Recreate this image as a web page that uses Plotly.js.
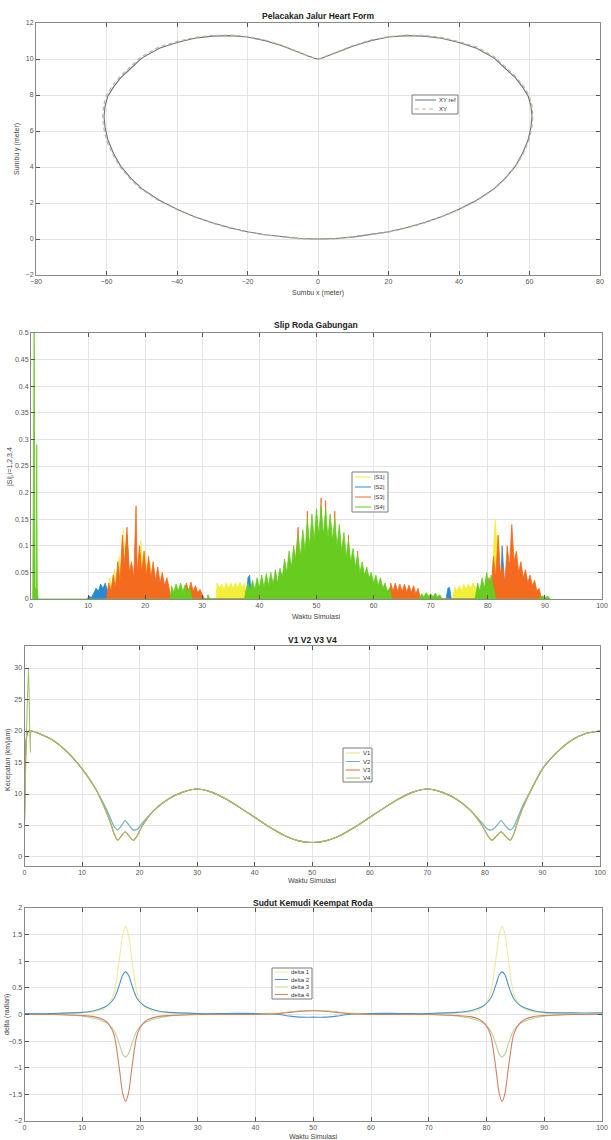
<!DOCTYPE html>
<html>
<head>
<meta charset="utf-8">
<script src="https://cdn.plot.ly/plotly-3.0.1.min.js"></script>
<style>html,body{margin:0;padding:0;background:#fff;}#chart{width:611px;height:1140px;}</style>
</head>
<body>
<div id="chart"></div>
<script>
// ---------- DATA ----------
// Plot 1: heart path (x, y in meter)
const heartRefX = [0, 5, 10, 15, 20, 25, 30, 35, 40, 45, 50, 53, 56, 58, 59.6, 60.4, 60.7, 60.4, 59.6, 58, 56, 53, 50, 45, 40, 35, 30, 25, 20, 15, 10, 6, 3, 1, 0, -1, -3, -6, -10, -15, -20, -25, -30, -35, -40, -45, -50, -53, -56, -58, -59.6, -60.4, -60.7, -60.4, -59.6, -58, -56, -53, -50, -45, -40, -35, -30, -25, -20, -15, -10, -5, 0];
const heartRefY = [0, 0.03, 0.12, 0.24, 0.4, 0.62, 0.9, 1.24, 1.65, 2.15, 2.8, 3.35, 4.05, 4.75, 5.5, 6.2, 6.8, 7.4, 7.95, 8.45, 8.95, 9.5, 10.05, 10.6, 10.92, 11.15, 11.27, 11.3, 11.22, 11.02, 10.72, 10.42, 10.18, 10.04, 10.0, 10.04, 10.18, 10.42, 10.72, 11.02, 11.22, 11.3, 11.27, 11.15, 10.92, 10.6, 10.05, 9.5, 8.95, 8.45, 7.95, 7.4, 6.8, 6.2, 5.5, 4.75, 4.05, 3.35, 2.8, 2.15, 1.65, 1.24, 0.9, 0.62, 0.4, 0.24, 0.12, 0.03, 0];
const heartX = [0, 5, 10, 15, 20, 25, 30, 35, 40, 45, 50, 53, 56, 58.2, 59.8, 60.7, 61.0, 60.7, 59.9, 58.3, 56.2, 53.2, 50.2, 45.1, 40, 35, 30, 25, 20, 15, 10, 6, 3, 1, 0, -1, -3, -6, -10, -15, -20, -25, -30, -35, -40, -45.2, -50.3, -53.3, -56.3, -58.4, -60, -60.8, -61.1, -60.8, -60, -58.3, -56.2, -53.2, -50.2, -45.1, -40, -35, -30, -25, -20, -15, -10, -5, 0];
const heartY = [-0.02, 0.01, 0.1, 0.22, 0.38, 0.6, 0.88, 1.22, 1.63, 2.12, 2.77, 3.32, 4.02, 4.72, 5.47, 6.18, 6.8, 7.42, 7.98, 8.5, 9.0, 9.56, 10.1, 10.66, 10.97, 11.2, 11.31, 11.33, 11.25, 11.05, 10.75, 10.45, 10.2, 10.06, 10.02, 10.06, 10.2, 10.45, 10.75, 11.05, 11.25, 11.33, 11.31, 11.2, 10.97, 10.66, 10.1, 9.56, 9.0, 8.5, 7.98, 7.42, 6.8, 6.18, 5.47, 4.72, 4.02, 3.32, 2.77, 2.12, 1.63, 1.22, 0.88, 0.6, 0.38, 0.22, 0.1, 0.01, -0.02];
const heartNames = ['XY ref', 'XY'];

// Plot 2: wheel slip |S1|..|S4| vs simulation time
const s1T = [13.5, 13.8, 14.2, 14.6, 15.0, 15.4, 15.8, 16.2, 16.6, 17.0, 17.4, 18.8, 19.2, 19.6, 20.0, 20.4, 20.8, 21.2, 21.6, 22.0, 32.4, 32.6, 33.0, 33.4, 33.8, 34.2, 34.6, 35.0, 35.4, 35.8, 36.2, 36.6, 37.0, 37.4, 37.6, 73.8, 74.2, 74.6, 75.0, 75.4, 75.8, 76.2, 76.6, 77.0, 77.4, 77.8, 78.2, 80.6, 81.0, 81.3, 81.6, 81.9, 82.2];
const s1V = [0, 0.04, 0.02, 0.055, 0.03, 0.08, 0.05, 0.13, 0.06, 0.1, 0, 0, 0.11, 0.06, 0.09, 0.04, 0.07, 0.03, 0.05, 0, 0, 0.03, 0.02, 0.028, 0.018, 0.03, 0.02, 0.03, 0.02, 0.03, 0.022, 0.032, 0.02, 0.03, 0, 0, 0.022, 0.015, 0.025, 0.016, 0.027, 0.018, 0.028, 0.02, 0.03, 0.022, 0, 0, 0.09, 0.15, 0.1, 0.12, 0];
const s2T = [9.8, 10.2, 10.6, 11.0, 11.4, 11.8, 12.2, 12.6, 13.0, 13.4, 13.8, 16.2, 16.5, 16.8, 17.1, 17.4, 37.7, 38.0, 38.3, 38.6, 43.2, 43.5, 43.8, 44.1, 72.7, 73.0, 73.3, 73.6, 82.2, 82.5, 82.8, 83.1];
const s2V = [0, 0.005, 0.003, 0.012, 0.02, 0.015, 0.028, 0.02, 0.03, 0.015, 0, 0, 0.08, 0.12, 0.06, 0, 0, 0.04, 0.045, 0, 0, 0.05, 0.048, 0, 0, 0.02, 0.022, 0, 0, 0.1, 0.05, 0];
const s3T = [13.2, 13.6, 14.0, 14.4, 14.8, 15.2, 15.6, 16.0, 16.4, 16.8, 17.2, 17.6, 18.0, 18.4, 18.6, 19.0, 19.4, 19.8, 20.2, 20.6, 21.0, 21.4, 21.8, 22.2, 22.6, 23.0, 23.4, 23.8, 24.2, 24.5, 26.8, 27.2, 27.6, 28.0, 28.4, 28.8, 29.2, 29.6, 30.0, 30.4, 45.8, 46.8, 47.0, 48.2, 48.4, 48.6, 50.6, 50.8, 51.0, 51.4, 51.6, 51.8, 53.0, 53.2, 53.4, 55.4, 55.6, 55.8, 57.0, 57.2, 57.4, 62.6, 63.0, 63.4, 63.8, 64.2, 64.6, 65.0, 65.4, 65.8, 66.2, 66.6, 67.0, 67.4, 67.8, 68.2, 79.8, 80.2, 80.6, 81.0, 81.4, 81.8, 82.2, 82.6, 83.0, 83.4, 83.8, 84.2, 84.6, 85.0, 85.4, 85.8, 86.2, 86.6, 87.0, 87.4, 87.8, 88.2, 88.6, 89.0, 89.4];
const s3V = [0, 0.03, 0.015, 0.045, 0.02, 0.07, 0.035, 0.12, 0.06, 0.135, 0.05, 0.07, 0.04, 0.175, 0.05, 0.1, 0.05, 0.09, 0.045, 0.08, 0.04, 0.07, 0.035, 0.06, 0.03, 0.05, 0.025, 0.04, 0.02, 0, 0, 0.03, 0.015, 0.032, 0.015, 0.025, 0.012, 0.018, 0.008, 0, 0, 0.135, 0, 0, 0.165, 0, 0, 0.19, 0, 0, 0.185, 0, 0, 0.165, 0, 0, 0.12, 0, 0, 0.09, 0, 0, 0.03, 0.015, 0.03, 0.015, 0.028, 0.014, 0.028, 0.013, 0.026, 0.012, 0.025, 0.01, 0.02, 0, 0, 0.04, 0.02, 0.08, 0.04, 0.12, 0.05, 0.06, 0.03, 0.1, 0.06, 0.14, 0.07, 0.09, 0.05, 0.07, 0.04, 0.055, 0.03, 0.045, 0.025, 0.035, 0.015, 0.02, 0];
const s4T = [0.3, 0.45, 0.55, 0.7, 0.9, 1.0, 1.1, 1.25, 24.4, 24.6, 25.0, 25.4, 25.8, 26.2, 26.6, 27.0, 27.4, 27.8, 28.2, 30.8, 31.0, 31.3, 37.4, 37.6, 38.0, 38.4, 38.8, 39.2, 39.6, 40.0, 40.4, 40.8, 41.2, 41.6, 42.0, 42.4, 42.8, 43.2, 43.6, 44.0, 44.4, 44.8, 45.2, 45.6, 46.0, 46.4, 46.8, 47.2, 47.6, 48.0, 48.4, 48.8, 49.2, 49.6, 50.0, 50.4, 50.8, 51.2, 51.6, 52.0, 52.4, 52.8, 53.2, 53.6, 54.0, 54.4, 54.8, 55.2, 55.6, 56.0, 56.4, 56.8, 57.2, 57.6, 58.0, 58.4, 58.8, 59.2, 59.6, 60.0, 60.4, 60.8, 61.2, 61.6, 62.0, 62.4, 62.8, 63.2, 68.0, 68.4, 68.8, 69.2, 69.6, 70.0, 70.4, 70.8, 71.2, 71.6, 72.0, 77.8, 78.2, 78.6, 79.0, 79.4, 79.8, 80.2, 80.6, 81.0, 81.4, 89.0, 89.5, 90.0, 90.5, 91.0];
const s4V = [0, 0.5, 0.5, 0.02, 0.02, 0.29, 0.02, 0, 0, 0.025, 0.012, 0.028, 0.015, 0.03, 0.014, 0.027, 0.012, 0.022, 0, 0, 0.008, 0, 0, 0.015, 0.03, 0.015, 0.035, 0.018, 0.04, 0.02, 0.045, 0.022, 0.048, 0.025, 0.05, 0.028, 0.055, 0.03, 0.058, 0.04, 0.075, 0.05, 0.09, 0.06, 0.1, 0.07, 0.12, 0.08, 0.13, 0.09, 0.15, 0.1, 0.16, 0.11, 0.17, 0.12, 0.175, 0.12, 0.17, 0.115, 0.16, 0.11, 0.15, 0.1, 0.14, 0.09, 0.125, 0.08, 0.11, 0.07, 0.095, 0.06, 0.085, 0.05, 0.07, 0.045, 0.06, 0.04, 0.05, 0.03, 0.045, 0.025, 0.04, 0.02, 0.03, 0.015, 0.02, 0, 0, 0.01, 0.004, 0.012, 0.005, 0.01, 0.004, 0.011, 0.004, 0.008, 0, 0, 0.03, 0.015, 0.04, 0.02, 0.05, 0.025, 0.045, 0.02, 0, 0, 0.006, 0.003, 0.005, 0];
const slipNames = ['|S1|', '|S2|', '|S3|', '|S4|'];

// Plot 3: wheel speeds V1..V4 (km/jam)
const vT = [0, 0.35, 0.7, 1.0, 1.2, 2.5, 5, 7.5, 10, 12.5, 14, 15, 15.6, 16.2, 16.8, 17.5, 18.2, 18.9, 19.6, 20.5, 22.5, 25, 27.5, 30, 32.5, 35, 37.5, 40, 42.5, 45, 47.5, 50, 52.5, 55, 57.5, 60, 62.5, 65, 67.5, 70, 72.5, 75, 77.5, 79.5, 80.5, 81.2, 82, 82.8, 83.6, 84.4, 85, 85.6, 86.5, 88, 90, 92.5, 95, 97.5, 100];
const v1 = [5.5, 19, 20, 20, 20, 19.6, 18.5, 16.6, 14.0, 10.6, 8.0, 6.0, 4.8, 4.3, 4.9, 5.8, 5.0, 4.3, 4.4, 5.4, 7.4, 9.2, 10.3, 10.8, 10.3, 9.2, 7.8, 6.3, 4.8, 3.5, 2.6, 2.3, 2.6, 3.5, 4.8, 6.3, 7.8, 9.2, 10.3, 10.8, 10.3, 9.2, 7.4, 5.4, 4.4, 4.3, 4.9, 5.8, 4.9, 4.3, 4.8, 6.0, 8.0, 10.6, 14.0, 16.6, 18.5, 19.6, 20];
const v2 = [5.5, 19, 20, 20, 20, 19.6, 18.5, 16.6, 14.0, 10.6, 8.0, 6.0, 4.8, 4.3, 4.9, 5.8, 5.0, 4.3, 4.4, 5.4, 7.4, 9.2, 10.3, 10.8, 10.3, 9.2, 7.8, 6.3, 4.8, 3.5, 2.6, 2.3, 2.6, 3.5, 4.8, 6.3, 7.8, 9.2, 10.3, 10.8, 10.3, 9.2, 7.4, 5.4, 4.4, 4.3, 4.9, 5.8, 4.9, 4.3, 4.8, 6.0, 8.0, 10.6, 14.0, 16.6, 18.5, 19.6, 20];
const v3 = [5.5, 19, 20, 20, 20, 19.6, 18.5, 16.6, 14.0, 10.6, 7.6, 5.3, 3.6, 2.65, 3.3, 4.0, 3.3, 2.65, 3.4, 5.0, 7.4, 9.2, 10.3, 10.8, 10.3, 9.2, 7.8, 6.3, 4.8, 3.5, 2.6, 2.3, 2.6, 3.5, 4.8, 6.3, 7.8, 9.2, 10.3, 10.8, 10.3, 9.2, 7.4, 5.0, 3.4, 2.65, 3.3, 4.0, 3.3, 2.65, 3.6, 5.3, 7.6, 10.6, 14.0, 16.6, 18.5, 19.6, 20];
const v4 = [5.5, 20, 30, 16.6, 20, 19.6, 18.5, 16.6, 14.0, 10.6, 7.6, 5.3, 3.6, 2.65, 3.3, 4.0, 3.3, 2.65, 3.4, 5.0, 7.4, 9.2, 10.3, 10.8, 10.3, 9.2, 7.8, 6.3, 4.8, 3.5, 2.6, 2.3, 2.6, 3.5, 4.8, 6.3, 7.8, 9.2, 10.3, 10.8, 10.3, 9.2, 7.4, 5.0, 3.4, 2.65, 3.3, 4.0, 3.3, 2.65, 3.6, 5.3, 7.6, 10.6, 14.0, 16.6, 18.5, 19.6, 20];
const vNames = ['V1', 'V2', 'V3', 'V4'];

// Plot 4: steering angles delta 1..4 (radian)
const dT = [0, 5, 10, 12, 13.5, 14.5, 15.5, 16, 16.5, 17, 17.5, 18, 18.5, 19, 19.5, 20.5, 21.5, 23, 25, 30, 35, 40, 44, 46, 48, 50, 52, 54, 56, 60, 65, 70, 75, 77.2, 78.7, 79.7, 80.7, 81.2, 81.7, 82.2, 82.7, 83.2, 83.7, 84.2, 84.7, 85.7, 86.7, 88.2, 90, 95, 100];
const d1 = [0.02, 0.02, 0.03, 0.05, 0.1, 0.18, 0.4, 0.7, 1.1, 1.5, 1.65, 1.5, 1.1, 0.7, 0.4, 0.18, 0.1, 0.05, 0.03, 0.02, 0.02, 0.02, 0.03, 0.05, 0.07, 0.08, 0.07, 0.05, 0.03, 0.02, 0.02, 0.02, 0.03, 0.05, 0.1, 0.18, 0.4, 0.7, 1.1, 1.5, 1.65, 1.5, 1.1, 0.7, 0.4, 0.18, 0.1, 0.05, 0.03, 0.02, 0.02];
const d2 = [0.02, 0.02, 0.04, 0.07, 0.12, 0.18, 0.3, 0.42, 0.58, 0.74, 0.8, 0.74, 0.58, 0.42, 0.3, 0.18, 0.12, 0.07, 0.04, 0.02, 0.02, 0.02, 0.0, -0.03, -0.05, -0.05, -0.05, -0.03, 0.0, 0.02, 0.02, 0.02, 0.04, 0.07, 0.12, 0.18, 0.3, 0.42, 0.58, 0.74, 0.8, 0.74, 0.58, 0.42, 0.3, 0.18, 0.12, 0.07, 0.04, 0.03, 0.03];
const d3 = [0.0, 0.0, -0.03, -0.07, -0.12, -0.18, -0.3, -0.42, -0.58, -0.74, -0.8, -0.74, -0.58, -0.42, -0.3, -0.18, -0.12, -0.07, -0.03, 0.0, 0.0, 0.0, 0.02, 0.05, 0.07, 0.08, 0.07, 0.05, 0.02, 0.0, 0.0, 0.0, -0.03, -0.07, -0.12, -0.18, -0.3, -0.42, -0.58, -0.74, -0.8, -0.74, -0.58, -0.42, -0.3, -0.18, -0.12, -0.07, -0.03, 0.0, 0.0];
const d4 = [0.0, 0.0, -0.02, -0.04, -0.09, -0.17, -0.38, -0.68, -1.08, -1.48, -1.63, -1.48, -1.08, -0.68, -0.38, -0.17, -0.09, -0.04, -0.02, 0.0, 0.0, 0.0, 0.02, 0.04, 0.06, 0.07, 0.06, 0.04, 0.02, 0.0, 0.0, 0.0, -0.02, -0.04, -0.09, -0.17, -0.38, -0.68, -1.08, -1.48, -1.63, -1.48, -1.08, -0.68, -0.38, -0.17, -0.09, -0.04, -0.02, 0.0, 0.0];
const dNames = ['delta 1', 'delta 2', 'delta 3', 'delta 4'];

// ---------- STYLE ----------
const W = 611, H = 1140;
const FONT = 'Liberation Sans, Arial, sans-serif';
const heartColors = ['#66767c', '#c2b095'];
const slipColors = ['#f2ee3a', '#2a8ad0', '#f46a1e', '#68cc20'];
const vColors = ['#e6e07a', '#66b4dc', '#de6a44', '#a4bf6c'];
const dColors = ['#efe9a0', '#4f93c9', '#bcd39a', '#cf8264'];

const fx = p => p / W;
const fy = p => 1 - p / H;

const traces = [];
traces.push({x: heartRefX, y: heartRefY, name: heartNames[0], type: 'scatter', mode: 'lines', line: {color: heartColors[0], width: 1.1}, xaxis: 'x', yaxis: 'y'});
traces.push({x: heartX, y: heartY, name: heartNames[1], type: 'scatter', mode: 'lines', line: {color: heartColors[1], width: 1.1, dash: '4px,3px'}, xaxis: 'x', yaxis: 'y'});
const sT = [s1T, s2T, s3T, s4T], sV = [s1V, s2V, s3V, s4V];
for (let i = 0; i < 4; i++) {
  traces.push({x: sT[i], y: sV[i], name: slipNames[i], type: 'scatter', mode: 'lines', fill: 'tozeroy', fillcolor: slipColors[i], line: {color: slipColors[i], width: 0.8}, xaxis: 'x2', yaxis: 'y2'});
}
const vV = [v1, v2, v3, v4];
for (let i = 0; i < 4; i++) {
  traces.push({x: vT, y: vV[i], name: vNames[i], type: 'scatter', mode: 'lines', line: {color: vColors[i], width: 1.1, shape: 'spline', smoothing: 0.6}, xaxis: 'x3', yaxis: 'y3'});
}
const dV = [d1, d2, d3, d4];
for (let i = 0; i < 4; i++) {
  traces.push({x: dT, y: dV[i], name: dNames[i], type: 'scatter', mode: 'lines', line: {color: dColors[i], width: 1.1, shape: 'spline', smoothing: 0.8}, xaxis: 'x4', yaxis: 'y4'});
}

function ax(domain, range, dtick, anchor) {
  return {
    domain: domain, range: range, dtick: dtick, tick0: 0, anchor: anchor,
    showline: true, linecolor: '#8a8a8a', linewidth: 1, mirror: 'ticks',
    ticks: 'inside', ticklen: 4, tickcolor: '#555', tickwidth: 1,
    showgrid: true, gridcolor: '#e4e4e4', gridwidth: 1, zeroline: false,
    tickfont: {family: FONT, size: 7, color: '#555'}, automargin: false, fixedrange: true
  };
}

const layout = {
  width: W, height: H,
  margin: {l: 0, r: 0, t: 0, b: 0},
  paper_bgcolor: '#fff', plot_bgcolor: '#fff',
  showlegend: false,
  font: {family: FONT, color: '#333'},
  xaxis: ax([fx(36), fx(600)], [-80, 80], 20, 'y'),
  yaxis: ax([fy(275), fy(23)], [-2, 12], 2, 'x'),
  xaxis2: ax([fx(31), fx(602)], [0, 100], 10, 'y2'),
  yaxis2: ax([fy(599), fy(333)], [0, 0.5], 0.05, 'x2'),
  xaxis3: ax([fx(24.5), fx(600)], [0, 100], 10, 'y3'),
  yaxis3: ax([fy(866), fy(646)], [-1.43, 33.5], 5, 'x3'),
  xaxis4: ax([fx(24.5), fx(602)], [0, 100], 10, 'y4'),
  yaxis4: ax([fy(1121), fy(908)], [-2, 2], 0.5, 'x4'),
  annotations: [], shapes: []
};

function text(t, x, y, opts) {
  layout.annotations.push(Object.assign({
    text: t, xref: 'paper', yref: 'paper', x: fx(x), y: fy(y), showarrow: false,
    xanchor: 'center', yanchor: 'middle', font: {family: FONT, size: 7, color: '#444'}
  }, opts || {}));
}
// subplot titles
const titles = [['Pelacakan Jalur Heart Form', 318, 16], ['Slip Roda Gabungan', 316, 325], ['V1 V2 V3 V4', 312, 640], ['Sudut Kemudi Keempat Roda', 313, 903]];
titles.forEach(t => text('<b>' + t[0] + '</b>', t[1], t[2], {font: {family: FONT, size: 8.5, color: '#222'}}));
// axis titles
text('Sumbu x (meter)', 318, 293);
text('Waktu Simulasi', 316, 616);
text('Waktu Simulasi', 312, 880);
text('Waktu Simulasi', 313, 1136);
text('Sumbu y (meter)', 17, 149, {textangle: -90});
text('|Si|,i=1,2,3,4', 10, 467, {textangle: -90});
text('Kecepatan (km/jam)', 8, 760, {textangle: -90});
text('delta (radian)', 7, 1015, {textangle: -90});

// legends (MATLAB-style boxes)
function legendBox(x0, y0, x1, y1, names, colors, dashes, lineX0, lineX1, textX, rowY) {
  layout.shapes.push({type: 'rect', xref: 'paper', yref: 'paper', x0: fx(x0), x1: fx(x1), y0: fy(y1), y1: fy(y0), line: {color: '#7a7a7a', width: 1}, fillcolor: '#fff', layer: 'above'});
  names.forEach((n, i) => {
    const yy = rowY[i];
    layout.shapes.push({type: 'line', xref: 'paper', yref: 'paper', x0: fx(lineX0), x1: fx(lineX1), y0: fy(yy), y1: fy(yy), line: {color: colors[i], width: 1, dash: dashes[i]}, layer: 'above'});
    text(n, textX, yy, {xanchor: 'left', font: {family: FONT, size: 6, color: '#333'}});
  });
}
legendBox(412, 95, 458, 114, heartNames, heartColors, ['solid', '4px,3px'], 415, 436, 437, [100, 109]);
legendBox(352, 472, 388, 512, slipNames, slipColors, ['solid', 'solid', 'solid', 'solid'], 355, 371, 372, [477, 487, 497, 507]);
legendBox(343, 748, 372, 782, vNames, vColors, ['solid', 'solid', 'solid', 'solid'], 346, 360, 361, [753, 761.5, 770, 778]);
legendBox(272, 968, 312, 999, dNames, dColors, ['solid', 'solid', 'solid', 'solid'], 275, 288, 289, [972, 979.5, 987, 994.5]);

Plotly.newPlot('chart', traces, layout, {staticPlot: true, displayModeBar: false});
</script>
</body>
</html>
